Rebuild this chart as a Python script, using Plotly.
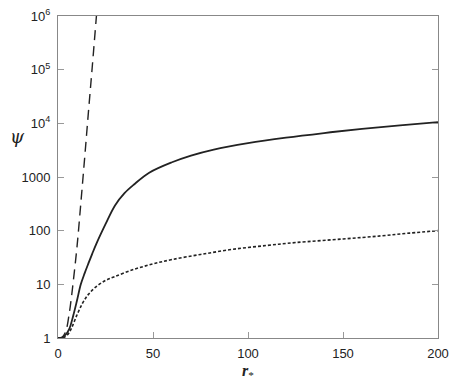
import plotly.graph_objects as go

# solid curve
r_solid = [0, 2, 4, 6, 8, 10, 12, 14, 16, 18, 20, 25, 30, 35, 40, 48, 60, 70, 82, 100, 120, 140, 160, 180, 200]
psi_solid = [1, 1.02, 1.15, 1.5, 2.6, 5, 10, 16, 24.5, 37, 55, 132, 295, 500, 725, 1200, 1880, 2500, 3240, 4260, 5400, 6600, 7900, 9200, 10500]

# dotted curve
r_dot = [0, 3, 5, 7, 10, 13, 16, 20, 25, 30, 40, 50, 60, 75, 92, 110, 125, 150, 170, 185, 200]
psi_dot = [1, 1.02, 1.15, 1.5, 2.7, 4.5, 6.5, 9, 11.8, 14, 19, 24, 29, 36, 45, 53, 60, 70, 80, 90, 100]

# dashed curve
r_dash = [0, 2, 4, 6, 7, 8, 10, 12, 14, 16, 18, 20, 21]
psi_dash = [1, 1.02, 1.3, 3, 5.5, 11, 50, 320, 2200, 1.6e4, 1.1e5, 8e5, 2.2e6]

ytick_vals = [1, 10, 100, 1000, 1e4, 1e5, 1e6]
ytick_text = ["1", "10", "100", "1000", "10<sup>4</sup>", "10<sup>5</sup>", "10<sup>6</sup>"]
xtick_vals = [0, 50, 100, 150, 200]

fig = go.Figure()
fig.add_trace(go.Scatter(x=r_dash, y=psi_dash, mode="lines",
                         line=dict(color="#222", width=1.4, dash="10px,6px"), line_shape="spline"))
fig.add_trace(go.Scatter(x=r_solid, y=psi_solid, mode="lines",
                         line=dict(color="#222", width=1.8), line_shape="spline"))
fig.add_trace(go.Scatter(x=r_dot, y=psi_dot, mode="lines",
                         line=dict(color="#222", width=1.6, dash="3px,2px"), line_shape="spline"))

axis_font = dict(family="Liberation Sans, Arial, sans-serif", size=13, color="#222")

fig.update_layout(
    width=449, height=382,
    margin=dict(l=58, r=11, t=16, b=44),
    paper_bgcolor="white", plot_bgcolor="white",
    showlegend=False,
    font=axis_font,
    xaxis=dict(range=[0, 200], tickvals=xtick_vals, ticks="inside", ticklen=6,
               tickcolor="#999", showline=True, linecolor="#888", linewidth=1,
               mirror=True, showgrid=False, zeroline=False, tickfont=axis_font,
               automargin=False, ticklabelstandoff=3),
    yaxis=dict(type="log", range=[0, 6], tickvals=ytick_vals, ticktext=ytick_text,
               ticks="inside", ticklen=6, tickcolor="#999", showline=True,
               linecolor="#888", linewidth=1, mirror="ticks", showgrid=False,
               zeroline=False, tickfont=axis_font, ticklabelstandoff=4,
               automargin=False),
    annotations=[
        dict(text="<i>ψ</i>", xref="paper", yref="paper", x=0, y=0.625,
             xanchor="center", yanchor="middle", xshift=-41, showarrow=False,
             font=dict(family="DejaVu Serif, serif", size=18, color="#222")),
        dict(text="<b><i>r</i></b><sub>*</sub>", xref="paper", yref="paper", x=0.5, y=0,
             xanchor="center", yanchor="top", yshift=-22, showarrow=False,
             font=dict(family="Liberation Serif, serif", size=16, color="#222")),
    ],
)

# drop the default 8px page margin so the figure sits at the window's corner
fig.write_html("out.html", config={"displayModeBar": False},
               post_script="document.body.style.margin='0';")
